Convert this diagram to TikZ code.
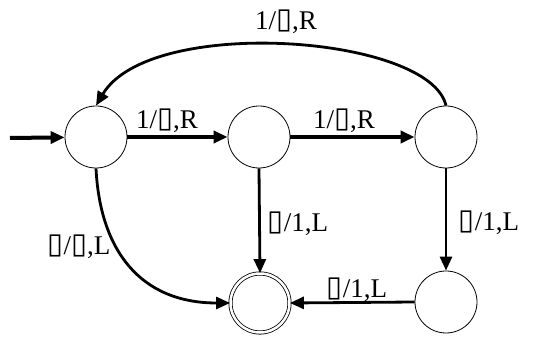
\documentclass[tikz,border=0pt]{standalone}
\usepackage{fontspec}
\setmainfont{Liberation Serif}
\newfontfamily\symfont{DejaVu Sans}
\usetikzlibrary{arrows.meta}
\newcommand{\blk}{\raisebox{0.5pt}{\symfont\fontsize{29pt}{29pt}\selectfont ▯}}
\tikzset{
  state/.style={circle, draw, line width=0.8pt, minimum size=62pt, inner sep=0pt},
  final/.style={state, double, double distance=2.5pt, line width=0.8pt, minimum size=62pt},
  edge/.style={-{Triangle[length=14pt,width=12pt]}, line width=2.8pt},
  thickedge/.style={edge, line width=4pt},
  lbl/.style={font=\fontsize{27pt}{29pt}\selectfont, inner sep=0pt},
}
\begin{document}
\begin{tikzpicture}[x=1pt,y=-1pt]
\useasboundingbox[fill=white] (0,0) rectangle (558,339);
\node[state] (A) at (96,137) {};
\node[state] (B) at (259,137) {};
\node[state] (C) at (446,137) {};
\node[final, minimum size=59pt] (D) at (260,303) {};
\node[state] (E) at (446,302) {};
\coordinate (start) at (10,138);
\draw[thickedge] (start) -- (A);
\draw[thickedge] (A) -- (B);
\draw[thickedge] (B) -- (C);
\draw[edge] (C.north) .. controls (430,35) and (150,15) .. (A.north);
\draw[edge] (A.south) .. controls (100,250) and (140,303) .. (D.west);
\draw[edge] (B.south) -- (D.north);
\draw[edge] (C.south) -- (E.north);
\draw[edge] (E.west) -- (D.east);
\node[lbl] (l1) at (286,22) {1/\blk,R};
\node[lbl] (l2) at (167,121) {1/\blk,R};
\node[lbl] (l3) at (344,121) {1/\blk,R};
\node[lbl] (l4) at (298,224) {\blk/1,L};
\node[lbl] (l5) at (489,223) {\blk/1,L};
\node[lbl] (l6) at (79,247) {\blk/\blk,L};
\node[lbl] (l7) at (357,290) {\blk/1,L};
\end{tikzpicture}
\end{document}
